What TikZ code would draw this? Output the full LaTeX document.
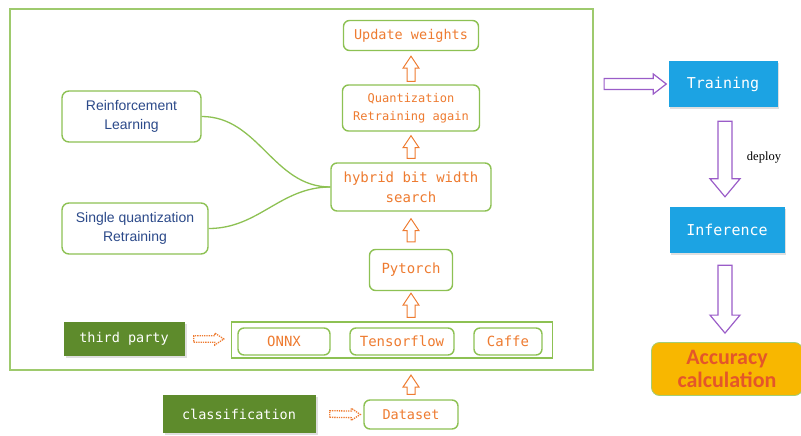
\documentclass[tikz,border=0pt]{standalone}
\usepackage{fontspec}
\setmainfont{Liberation Sans}
\newfontfamily\codefont{DejaVu Sans Mono}
\newfontfamily\calcfont{Carlito}
\newfontfamily\deployfont{Liberation Serif}
\usetikzlibrary{calc,positioning,shadows}
\definecolor{qgreen}{HTML}{8DC153}
\definecolor{qolive}{HTML}{5E8B2C}
\definecolor{qorange}{HTML}{EE7B30}
\definecolor{qblue}{HTML}{1CA3E3}
\definecolor{qnavy}{HTML}{2C4A8A}
\definecolor{qyellow}{HTML}{F8B700}
\definecolor{qred}{HTML}{E4562A}
\definecolor{qpurple}{HTML}{9A5CC8}

% hollow block arrow between two points: [style]{from}{to}{shaft half}{head half}{head length}
\newcommand{\hollowarrow}[6][]{%
  \draw[#1] let \p1=(#2), \p2=(#3), \n1={atan2(\y2-\y1,\x2-\x1)}, \n2={veclen(\x2-\x1,\y2-\y1)} in
    [shift={(\x1,\y1)}, rotate=\n1]
    (0,#4) -- ({\n2-#6},#4) -- ({\n2-#6},#5) -- (\n2,0) -- ({\n2-#6},-#5) -- ({\n2-#6},-#4) -- (0,-#4) -- cycle;}

\begin{document}
\begin{tikzpicture}[x=1pt, y=-1pt,
  frame/.style={draw=qgreen!85, line width=2.2pt, minimum width=583pt, minimum height=361pt},
  stepbox/.style={draw=qgreen, line width=1.4pt, rounded corners=6pt, fill=white, text=qorange, align=center, inner sep=1pt, font=\codefont\fontsize{14}{20}\selectfont},
  sidebox/.style={draw=qgreen, line width=1.4pt, rounded corners=7pt, fill=white, text=qnavy, align=center, inner sep=1pt, font=\fontsize{14}{19}\selectfont},
  darkbox/.style={fill=qolive, text=white, inner sep=1pt, font=\codefont\fontsize{13.5}{16}\selectfont, drop shadow={opacity=0.25, shadow xshift=2pt, shadow yshift=-2pt}},
  bluebox/.style={fill=qblue, text=white, inner sep=1pt, font=\codefont\fontsize{15}{18}\selectfont, drop shadow={opacity=0.25, shadow xshift=1pt, shadow yshift=-2pt}},
  upblock/.style={draw=qorange, line width=1pt, fill=white},
  dotblock/.style={draw=qorange, line width=1.3pt, densely dotted},
  purpleblock/.style={draw=qpurple, line width=1.2pt, fill=white},
  curve/.style={draw=qgreen, line width=1.3pt}
]
  \useasboundingbox (0,0) rectangle (801,436);

  \node[frame] (frame) at (301.5,189.5) {};

  \node[stepbox, minimum width=135pt, minimum height=30pt, font=\codefont\fontsize{13.5}{16}\selectfont] (upd) at (411,35.5) {Update weights};
  \node[stepbox, minimum width=137pt, minimum height=46pt, font=\codefont\fontsize{12}{18}\selectfont] (quant) at (411,108) {Quantization\\Retraining again};
  \node[stepbox, minimum width=160pt, minimum height=48pt] (hybrid) at (411,187) {hybrid bit width\\search};
  \node[stepbox, minimum width=83pt, minimum height=41pt] (pytorch) at (411,270) {Pytorch};

  \node[draw=qgreen, line width=1.4pt, minimum width=321pt, minimum height=36pt] (group) at (392,340) {};
  \node[stepbox, minimum width=92pt, minimum height=27pt] (onnx) at (284,341.5) {ONNX};
  \node[stepbox, minimum width=104pt, minimum height=27pt] (tf) at (402,341.5) {Tensorflow};
  \node[stepbox, minimum width=68pt, minimum height=27pt] (caffe) at (508,341.5) {Caffe};

  \node[darkbox, minimum width=121pt, minimum height=34pt] (third) at (124,339) {third party};
  \node[darkbox, minimum width=153pt, minimum height=38pt] (cls) at (239,414) {classification};
  \node[stepbox, minimum width=94pt, minimum height=29pt, font=\codefont\fontsize{13.5}{16}\selectfont] (dataset) at (411,414.5) {Dataset};

  \node[sidebox, minimum width=139pt, minimum height=51pt] (rl) at (131.5,116.5) {Reinforcement\\Learning};
  \node[sidebox, minimum width=146pt, minimum height=51pt] (single) at (135,228.5) {Single quantization\\Retraining};

  \node[bluebox, minimum width=109pt, minimum height=46pt] (train) at (723,84) {Training};
  \node[bluebox, minimum width=115pt, minimum height=46pt] (infer) at (727,230) {Inference};
  \node[draw=qgreen!80, line width=0.8pt, fill=qyellow, rounded corners=8pt, minimum width=151pt, minimum height=53pt, text=qred, align=center, inner sep=1pt, font=\calcfont\bfseries\fontsize{22}{23}\selectfont] (acc) at (727,369) {Accuracy\\calculation};
  \node[font=\deployfont\fontsize{12.5}{14}\selectfont] (deploy) at (764,158) {deploy};

  \draw[curve] (rl.east) to[out=0, in=180] (hybrid.west);
  \draw[curve] (single.east) to[out=0, in=180] (hybrid.west);

  \hollowarrow[upblock]{[yshift=3pt]quant.north}{[yshift=-5pt]upd.south}{4}{8}{12}
  \hollowarrow[upblock]{[yshift=4pt]hybrid.north}{[yshift=-4pt]quant.south}{4}{8}{12}
  \hollowarrow[upblock]{[yshift=7pt]pytorch.north}{[yshift=-7pt]hybrid.south}{4}{8}{12}
  \hollowarrow[upblock]{[yshift=4pt]pytorch.south |- group.north}{[yshift=-2pt]pytorch.south}{4}{8}{12}
  \hollowarrow[upblock]{[yshift=5pt]dataset.north}{[yshift=-4pt]dataset.north |- frame.south}{4}{8}{12}

  \hollowarrow[dotblock]{[xshift=9pt]third.east}{[xshift=-7pt]group.west |- third.east}{3.3}{6}{9}
  \hollowarrow[dotblock]{[xshift=14pt]cls.east}{[xshift=-3pt]dataset.west}{3.3}{6}{9}

  \hollowarrow[purpleblock]{[xshift=10pt]frame.east |- train.west}{[xshift=-2pt]train.west}{5.5}{10}{13}
  \hollowarrow[purpleblock]{[yshift=-14pt]train.south -| 725,0}{[yshift=10pt]infer.north -| 725,0}{7}{15}{18}
  \hollowarrow[purpleblock]{[yshift=-12pt]infer.south -| 725,0}{[yshift=9pt]acc.north -| 725,0}{7}{15}{18}
\end{tikzpicture}
\end{document}
